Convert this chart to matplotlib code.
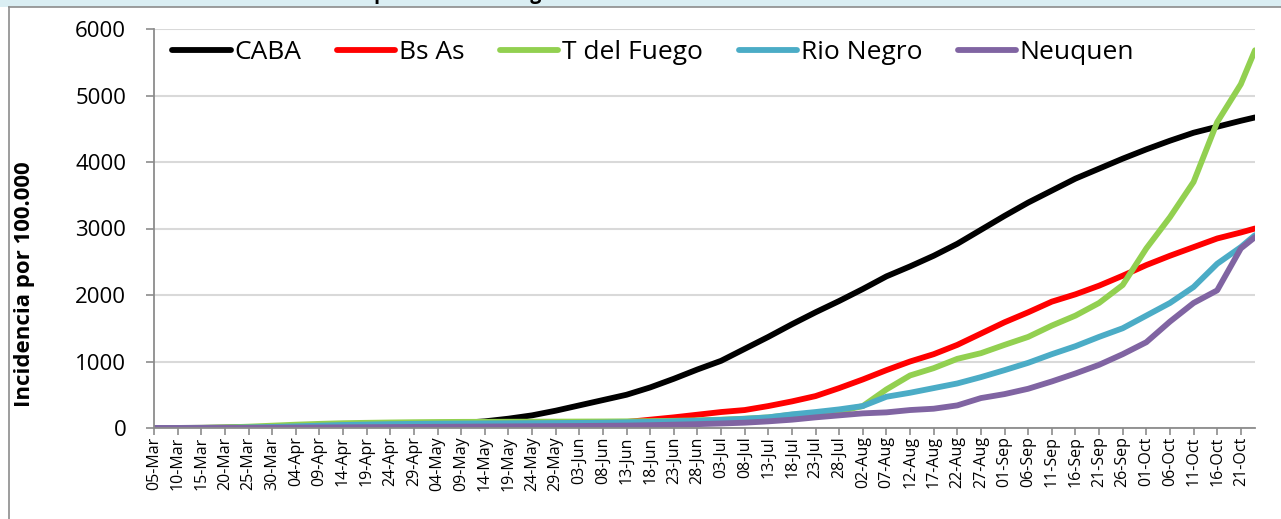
import numpy as np
import pandas as pd
import matplotlib
matplotlib.use("Agg")
import matplotlib.pyplot as plt
import matplotlib.dates as mdates
from matplotlib.patches import Rectangle
from matplotlib.lines import Line2D

plt.rcParams['font.family'] = ['Open Sans', 'DejaVu Sans']

# fechas: cada 5 dias desde 05-Mar hasta 21-Oct, y el ultimo dato 24-Oct
fechas = list(pd.date_range('2020-03-05', '2020-10-21', freq='5D')) + [pd.Timestamp('2020-10-24')]

caba = [0, 1, 3, 6, 10, 15, 22, 30, 38, 45, 52, 58, 65, 75, 100, 140, 190, 260, 340, 420,
        500, 610, 740, 880, 1010, 1190, 1370, 1560, 1740, 1910, 2090, 2280, 2430, 2590, 2770, 2980,
        3190, 3390, 3570, 3750, 3900, 4050, 4190, 4320, 4440, 4530, 4620, 4670]
bs_as = [0, 0, 1, 2, 4, 6, 9, 12, 15, 18, 21, 25, 28, 32, 36, 40, 46, 52, 60, 72,
         90, 125, 160, 200, 240, 270, 330, 400, 480, 600, 730, 870, 1000, 1110, 1250, 1420,
         1590, 1740, 1900, 2010, 2140, 2290, 2450, 2590, 2720, 2850, 2940, 3000]
t_fuego = [0, 0, 2, 8, 20, 35, 50, 62, 72, 78, 83, 87, 90, 92, 93, 94, 95, 96, 97, 98,
           100, 103, 108, 115, 125, 140, 160, 200, 220, 250, 330, 580, 790, 900, 1040, 1125,
           1250, 1370, 1540, 1690, 1880, 2150, 2700, 3170, 3700, 4600, 5170, 5680]
rio_negro = [0, 0, 1, 3, 8, 15, 25, 35, 45, 52, 58, 62, 65, 67, 69, 71, 73, 75, 77, 80,
             85, 92, 100, 110, 122, 138, 160, 205, 240, 280, 330, 470, 530, 600, 670, 765,
             870, 980, 1110, 1230, 1370, 1500, 1690, 1880, 2120, 2470, 2720, 2900]
neuquen = [0, 0, 0, 1, 2, 4, 6, 8, 10, 12, 14, 16, 18, 20, 22, 24, 26, 28, 30, 33,
           36, 42, 50, 58, 68, 80, 100, 125, 160, 190, 220, 235, 270, 290, 340, 450,
           510, 590, 700, 820, 950, 1110, 1290, 1600, 1880, 2070, 2700, 2870]

series = [("CABA", caba, "#000000"),
          ("Bs As", bs_as, "#FF0000"),
          ("T del Fuego", t_fuego, "#92D050"),
          ("Rio Negro", rio_negro, "#4BACC6"),
          ("Neuquen", neuquen, "#8064A2")]

W, H = 1281, 519
fig = plt.figure(figsize=(W / 100, H / 100), dpi=100)

# franja celeste superior y borde del grafico
fig.patches.append(Rectangle((0, 1 - 7 / H), 1, 7 / H, transform=fig.transFigure,
                             facecolor="#DAEEF3", edgecolor="none", zorder=0))
fig.lines.append(Line2D([9 / W, 1], [1 - 7 / H, 1 - 7 / H], transform=fig.transFigure,
                        color="#8C8C8C", lw=1.2))
fig.lines.append(Line2D([9 / W, 9 / W], [0, 1 - 7 / H], transform=fig.transFigure,
                        color="#8C8C8C", lw=1.2))
# titulo cortado por el borde superior (como en la imagen original)
fig.text(250 / W, 1 + 1.2 / H, "COVID-19 en provincias de Argentina hasta el 24 de octubre de 2020",
         ha="left", va="baseline", fontsize=14, fontweight="bold")

ax = fig.add_axes([154 / W, (H - 428) / H, (1255 - 154) / W, (428 - 29) / H])

for nombre, valores, color in series:
    ax.plot(fechas, valores, color=color, lw=4.2, label=nombre,
            solid_capstyle="round", solid_joinstyle="round")

ax.set_ylim(0, 6000)
ax.set_yticks(np.arange(0, 6001, 1000))
ax.set_xlim(fechas[0], fechas[-1])
ax.set_xticks(fechas[:-1])
ax.xaxis.set_major_formatter(mdates.DateFormatter("%d-%b"))
ax.tick_params(axis="x", labelrotation=90, labelsize=11.5, length=5, width=1.2,
               color="#8C8C8C", pad=1)
ax.tick_params(axis="y", labelsize=16, length=6, width=1.2, color="#8C8C8C", pad=14)

ax.grid(axis="y", color="#D9D9D9", lw=1.5)
ax.set_axisbelow(True)
for s in ["top", "right"]:
    ax.spines[s].set_visible(False)
for s in ["left", "bottom"]:
    ax.spines[s].set_color("#8C8C8C")
    ax.spines[s].set_linewidth(1.3)

ax.set_ylabel("Incidencia por 100.000", fontsize=16, fontweight="bold")
ax.yaxis.set_label_coords(-0.108, 0.36)

ax.legend(loc="upper left", bbox_to_anchor=(0.0, 1.018), ncol=5, frameon=False,
          fontsize=19, handlelength=2.2, handletextpad=0.15, columnspacing=1.35,
          borderaxespad=0.3)

fig.savefig("out.png", dpi=100)
